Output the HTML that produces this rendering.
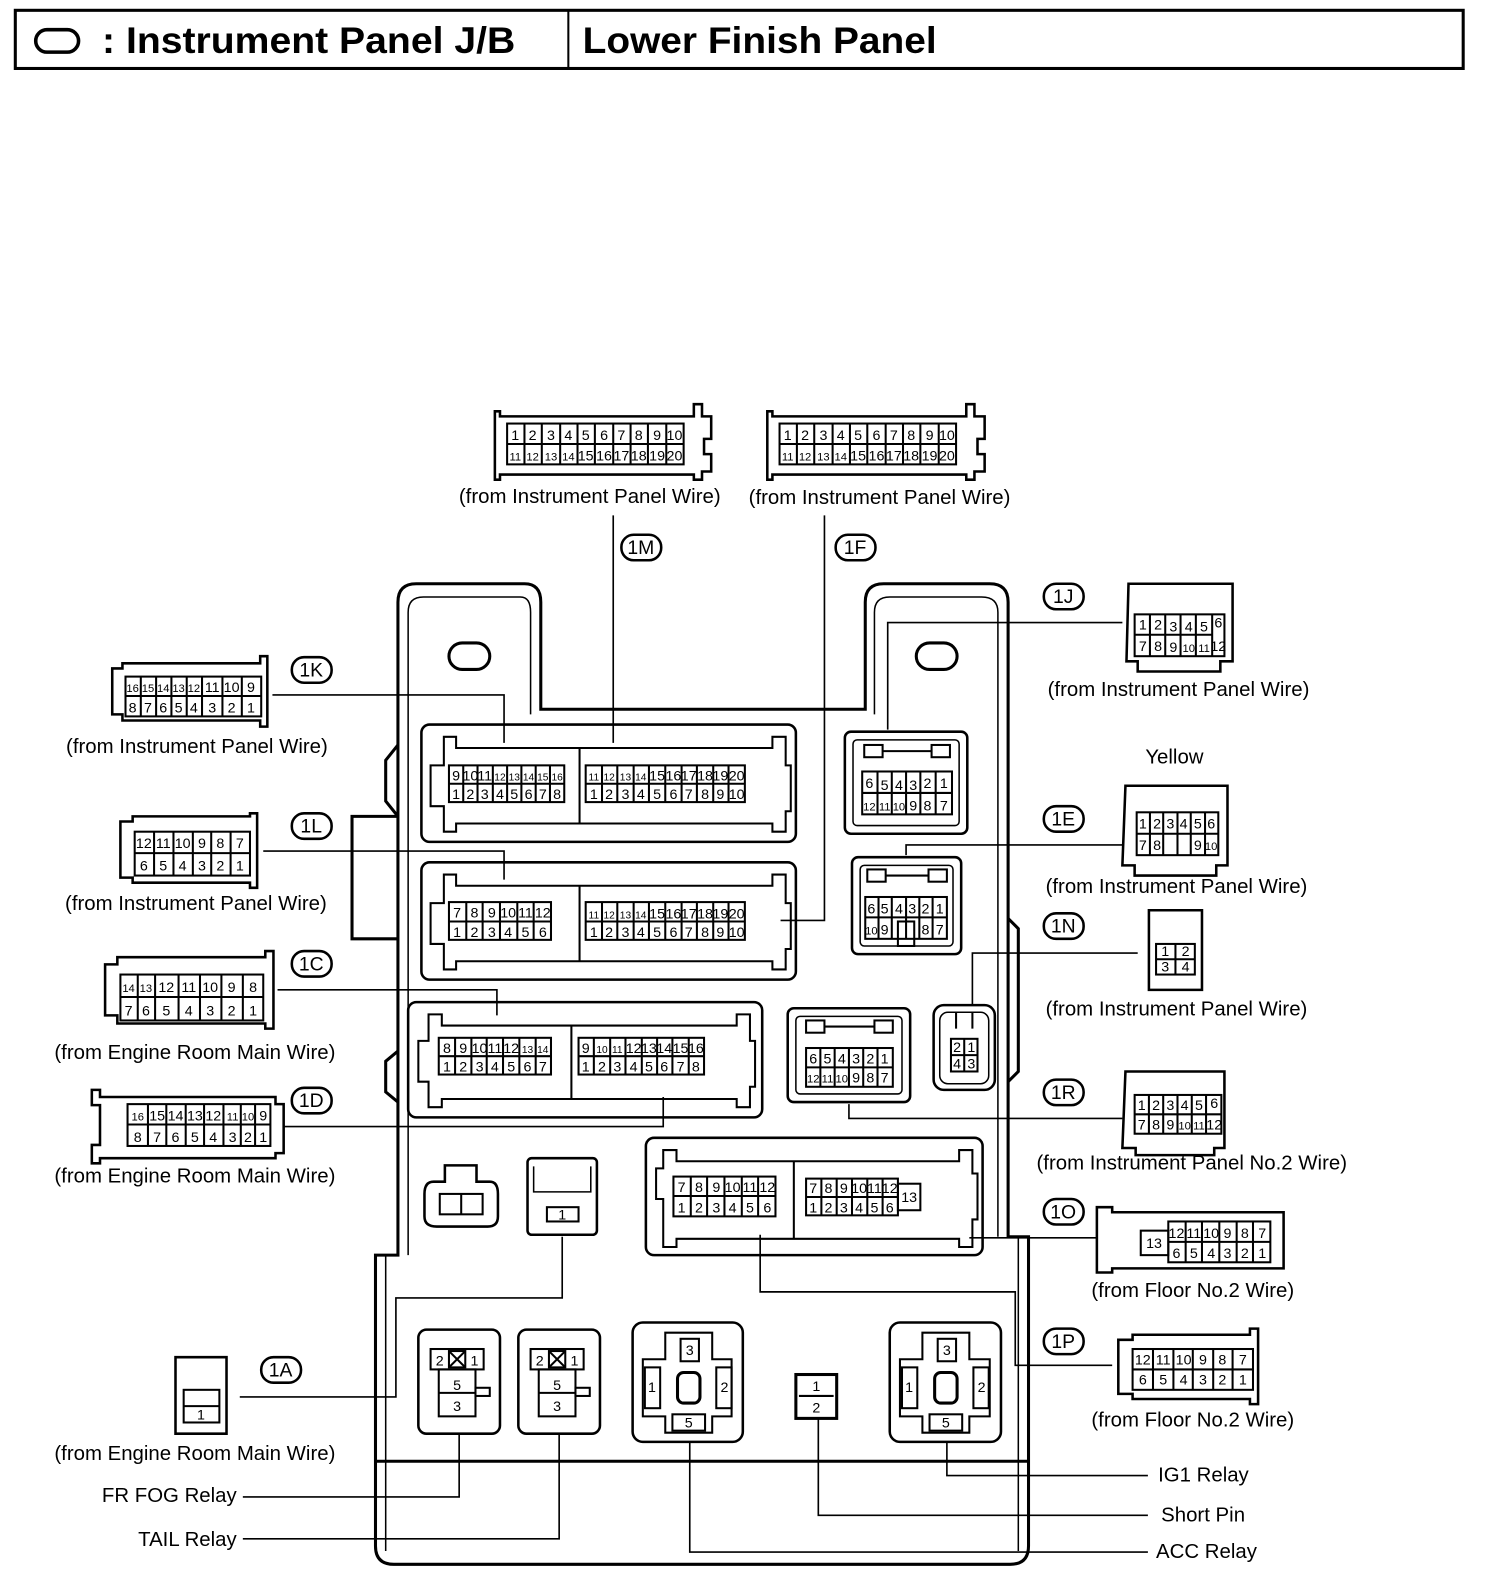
<!DOCTYPE html>
<html><head><meta charset="utf-8"><style>
html,body{margin:0;padding:0;background:#fff}
svg{display:block}
text{font-family:"Liberation Sans",Arial,sans-serif;fill:#000}
.l{font-size:20px}
.p{font-size:14px;text-anchor:middle}
.c{font-size:19px;text-anchor:middle}
</style></head><body>
<svg width="1504" height="1594" viewBox="0 0 1474 1562" xmlns="http://www.w3.org/2000/svg" fill="none" stroke="#000">
<!-- header -->
<rect x="15" y="10" width="1419" height="57" stroke-width="3"/>
<line x1="557" y1="10" x2="557" y2="67" stroke-width="2"/>
<rect x="35" y="29" width="42" height="22" rx="11" stroke-width="3.5"/>
<text x="100" y="52" style="font-size:36px;font-weight:bold" stroke="none" textLength="405" lengthAdjust="spacingAndGlyphs">: Instrument Panel J/B</text>
<text x="571" y="52" style="font-size:36px;font-weight:bold" stroke="none" textLength="347" lengthAdjust="spacingAndGlyphs">Lower Finish Panel</text>

<!-- main J/B body -->
<g stroke-width="3">
<path d="M390,1230 V590 Q390,572 408,572 H514 Q530,572 530,590 V695 H848 V590 Q848,572 866,572 H970 Q988,572 988,590 V1212 H1008 V1515 Q1008,1533 990,1533 H386 Q368,1533 368,1515 V1230 Z"/>
<path d="M400,1230 V600 Q400,585 415,585 H510 Q520,585 520,600 V700" stroke-width="1.5"/>
<path d="M857,700 V600 Q857,585 872,585 H962 Q978,585 978,600 V1212" stroke-width="1.5"/>
<line x1="368" y1="1432" x2="1008" y2="1432"/>
<line x1="378" y1="1230" x2="378" y2="1520" stroke-width="1.5"/>
<line x1="998" y1="1212" x2="998" y2="1520" stroke-width="1.5"/>
<path d="M390,800 H345 V920 H390"/>
<path d="M390,730 L378,745 V785 L390,800"/>
<path d="M390,1030 L378,1040 V1070 L390,1080"/>
<path d="M988,900 L998,910 V1050 L988,1060"/>
<rect x="440" y="630" width="40" height="26" rx="13"/>
<rect x="898" y="630" width="40" height="26" rx="13"/>
</g>

<!-- 1K/1M big connector -->
<g stroke-width="2.5">
<rect x="413" y="710" width="367" height="115" rx="8"/>
<path d="M435,722 H447 V733 H757 V722 H770 V750 H775 V795 H770 V815 H757 V807 H447 V815 H435 V790 H422 V750 H435 Z" stroke-width="2"/>
<line x1="568" y1="733" x2="568" y2="807" stroke-width="2"/>
<rect x="413" y="845" width="367" height="115" rx="8"/>
<path d="M435,857 H447 V868 H757 V857 H770 V885 H775 V930 H770 V950 H757 V942 H447 V950 H435 V925 H422 V885 H435 Z" stroke-width="2"/>
<line x1="568" y1="868" x2="568" y2="942" stroke-width="2"/>
<rect x="400" y="982" width="347" height="113" rx="8"/>
<path d="M420,994 H433 V1005 H722 V994 H735 V1020 H740 V1065 H735 V1085 H722 V1077 H433 V1085 H420 V1060 H410 V1020 H420 Z" stroke-width="2"/>
<line x1="560" y1="1005" x2="560" y2="1077" stroke-width="2"/>
<rect x="633" y="1115" width="330" height="115" rx="8"/>
<path d="M650,1127 H663 V1138 H940 V1127 H953 V1150 H958 V1195 H953 V1222 H940 V1214 H663 V1222 H650 V1175 H643 V1145 H650 Z" stroke-width="2"/>
<line x1="778" y1="1138" x2="778" y2="1214" stroke-width="2"/>
<!-- small right connectors -->
<rect x="828" y="717" width="120" height="100" rx="6"/>
<rect x="836" y="725" width="104" height="84" rx="4" stroke-width="1.5"/>
<rect x="835" y="840" width="107" height="95" rx="6"/>
<rect x="843" y="848" width="91" height="79" rx="4" stroke-width="1.5"/>
<rect x="772" y="988" width="120" height="92" rx="6"/>
<rect x="780" y="996" width="104" height="76" rx="4" stroke-width="1.5"/>
<rect x="915" y="985" width="60" height="83" rx="10"/>
<rect x="921" y="992" width="48" height="70" rx="8" stroke-width="1.5"/>
<!-- small left connectors -->
<path d="M425,1158 H436 V1142 H467 V1158 H480 Q488,1158 488,1170 V1192 Q488,1202 478,1202 H428 Q416,1202 416,1192 V1170 Q416,1158 425,1158 Z"/>
<rect x="431" y="1170" width="42" height="20" stroke-width="2"/>
<line x1="452" y1="1170" x2="452" y2="1190" stroke-width="2"/>
<rect x="517" y="1135" width="68" height="75" rx="4"/>
<path d="M523,1143 V1168 H579 V1143" stroke-width="1.5"/>
<rect x="536" y="1183" width="31" height="14" stroke-width="2"/>
<!-- relays -->
<rect x="410" y="1303" width="80" height="102" rx="8"/>
<rect x="508" y="1303" width="80" height="102" rx="8"/>
<rect x="620" y="1296" width="108" height="117" rx="10"/>
<rect x="872" y="1296" width="109" height="117" rx="10"/>
<rect x="780" y="1347" width="40" height="43" stroke-width="3"/>
</g>
<!-- relay internals -->
<g stroke-width="2">
<rect x="422" y="1322" width="52" height="20"/><rect x="440" y="1324" width="16" height="16"/><path d="M440,1324 L456,1340 M456,1324 L440,1340"/>
<rect x="430" y="1342" width="36" height="46"/><line x1="430" y1="1365" x2="466" y2="1365"/><rect x="466" y="1360" width="14" height="8"/>
<rect x="520" y="1322" width="52" height="20"/><rect x="538" y="1324" width="16" height="16"/><path d="M538,1324 L554,1340 M554,1324 L538,1340"/>
<rect x="528" y="1342" width="36" height="46"/><line x1="528" y1="1365" x2="564" y2="1365"/><rect x="564" y="1360" width="14" height="8"/>
<path d="M652,1306 H698 V1332 H717 V1388 H698 V1404 H652 V1388 H630 V1332 H652 Z"/>
<rect x="667" y="1312" width="18" height="22"/><rect x="632" y="1340" width="15" height="40"/><rect x="702" y="1340" width="15" height="40"/><rect x="659" y="1386" width="32" height="16"/>
<rect x="664" y="1345" width="22" height="30" rx="6" stroke-width="3"/>
<path d="M904,1306 H950 V1332 H970 V1388 H950 V1404 H904 V1388 H882 V1332 H904 Z"/>
<rect x="919" y="1312" width="18" height="22"/><rect x="884" y="1340" width="15" height="40"/><rect x="954" y="1340" width="15" height="40"/><rect x="911" y="1386" width="32" height="16"/>
<rect x="916" y="1345" width="22" height="30" rx="6" stroke-width="3"/>
<line x1="783" y1="1368" x2="817" y2="1368"/>
</g>
<g stroke="none">
<text class="p" x="431" y="1338">2</text><text class="p" x="465" y="1338">1</text><text class="p" x="448" y="1362">5</text><text class="p" x="448" y="1383">3</text>
<text class="p" x="529" y="1338">2</text><text class="p" x="563" y="1338">1</text><text class="p" x="546" y="1362">5</text><text class="p" x="546" y="1383">3</text>
<text class="p" x="676" y="1328">3</text><text class="p" x="639" y="1364">1</text><text class="p" x="710" y="1364">2</text><text class="p" x="675" y="1399">5</text>
<text class="p" x="928" y="1328">3</text><text class="p" x="891" y="1364">1</text><text class="p" x="962" y="1364">2</text><text class="p" x="927" y="1399">5</text>
<text class="p" x="800" y="1363">1</text><text class="p" x="800" y="1384">2</text>
<text class="p" x="551" y="1195">1</text>
</g>

<!-- pin grids -->
<g stroke-width="2">
<rect x="440" y="750" width="113" height="36"/><line x1="440" y1="768" x2="553" y2="768"/>
<path d="M454,750V786M468,750V786M483,750V786M497,750V786M511,750V786M525,750V786M539,750V786"/>
<rect x="574" y="750" width="156" height="36"/><line x1="574" y1="768" x2="730" y2="768"/>
<path d="M590,750V786M605,750V786M621,750V786M636,750V786M652,750V786M668,750V786M683,750V786M699,750V786M714,750V786"/>
<rect x="440" y="884" width="100" height="37"/><line x1="440" y1="903" x2="540" y2="903"/>
<path d="M457,884V921M473,884V921M490,884V921M507,884V921M523,884V921"/>
<rect x="574" y="884" width="156" height="37"/><line x1="574" y1="903" x2="730" y2="903"/>
<path d="M590,884V921M605,884V921M621,884V921M636,884V921M652,884V921M668,884V921M683,884V921M699,884V921M714,884V921"/>
<rect x="430" y="1017" width="110" height="36"/><line x1="430" y1="1035" x2="540" y2="1035"/>
<path d="M446,1017V1053M462,1017V1053M477,1017V1053M493,1017V1053M509,1017V1053M525,1017V1053"/>
<rect x="567" y="1017" width="123" height="36"/><line x1="567" y1="1035" x2="690" y2="1035"/>
<path d="M582,1017V1053M598,1017V1053M613,1017V1053M629,1017V1053M644,1017V1053M659,1017V1053M675,1017V1053"/>
<rect x="660" y="1153" width="100" height="39"/><line x1="660" y1="1172" x2="760" y2="1172"/>
<path d="M677,1153V1192M693,1153V1192M710,1153V1192M727,1153V1192M743,1153V1192"/>
<rect x="790" y="1155" width="90" height="36"/><line x1="790" y1="1173" x2="880" y2="1173"/>
<path d="M805,1155V1191M820,1155V1191M835,1155V1191M850,1155V1191M865,1155V1191"/>
<rect x="880" y="1160" width="22" height="26"/>
<rect x="845" y="756" width="88" height="42"/><line x1="845" y1="777" x2="933" y2="777"/>
<path d="M860,756V798M874,756V798M888,756V798M902,756V798M917,756V798"/>
<rect x="847" y="730" width="18" height="12"/><rect x="913" y="730" width="18" height="12"/><line x1="865" y1="736" x2="913" y2="736"/>
<rect x="848" y="879" width="80" height="41"/><line x1="848" y1="899" x2="928" y2="899"/>
<path d="M861,879V920M874,879V920M888,879V920M901,879V920M914,879V920"/>
<rect x="880" y="903" width="16" height="24"/>
<rect x="850" y="852" width="18" height="12"/><rect x="910" y="852" width="18" height="12"/><line x1="868" y1="858" x2="910" y2="858"/>
<rect x="790" y="1027" width="85" height="38"/><line x1="790" y1="1046" x2="875" y2="1046"/>
<path d="M804,1027V1065M818,1027V1065M832,1027V1065M846,1027V1065M860,1027V1065"/>
<rect x="790" y="1000" width="18" height="12"/><rect x="857" y="1000" width="18" height="12"/><line x1="808" y1="1006" x2="857" y2="1006"/>
<rect x="932" y="1018" width="26" height="32"/><line x1="932" y1="1034" x2="958" y2="1034"/><line x1="945" y1="1018" x2="945" y2="1050"/>
<path d="M937,992V1008M953,992V1008"/>
</g>
<g stroke="none">
<text class="p" x="447" y="765">9</text><text class="p" x="461" y="765">10</text><text class="p" x="475" y="765">11</text><text class="p" x="490" y="765" style="font-size:10px">12</text><text class="p" x="504" y="765" style="font-size:10px">13</text><text class="p" x="518" y="765" style="font-size:10px">14</text><text class="p" x="532" y="765" style="font-size:10px">15</text><text class="p" x="546" y="765" style="font-size:10px">16</text>
<text class="p" x="447" y="783">1</text><text class="p" x="461" y="783">2</text><text class="p" x="475" y="783">3</text><text class="p" x="490" y="783">4</text><text class="p" x="504" y="783">5</text><text class="p" x="518" y="783">6</text><text class="p" x="532" y="783">7</text><text class="p" x="546" y="783">8</text>
<text class="p" x="582" y="765" style="font-size:10px">11</text><text class="p" x="597" y="765" style="font-size:10px">12</text><text class="p" x="613" y="765" style="font-size:10px">13</text><text class="p" x="628" y="765" style="font-size:10px">14</text><text class="p" x="644" y="765">15</text><text class="p" x="660" y="765">16</text><text class="p" x="675" y="765">17</text><text class="p" x="691" y="765">18</text><text class="p" x="706" y="765">19</text><text class="p" x="722" y="765">20</text>
<text class="p" x="582" y="783">1</text><text class="p" x="597" y="783">2</text><text class="p" x="613" y="783">3</text><text class="p" x="628" y="783">4</text><text class="p" x="644" y="783">5</text><text class="p" x="660" y="783">6</text><text class="p" x="675" y="783">7</text><text class="p" x="691" y="783">8</text><text class="p" x="706" y="783">9</text><text class="p" x="722" y="783">10</text>
<text class="p" x="448" y="899">7</text><text class="p" x="465" y="899">8</text><text class="p" x="482" y="899">9</text><text class="p" x="498" y="899">10</text><text class="p" x="515" y="899">11</text><text class="p" x="532" y="899">12</text>
<text class="p" x="448" y="918">1</text><text class="p" x="465" y="918">2</text><text class="p" x="482" y="918">3</text><text class="p" x="498" y="918">4</text><text class="p" x="515" y="918">5</text><text class="p" x="532" y="918">6</text>
<text class="p" x="582" y="900" style="font-size:10px">11</text><text class="p" x="597" y="900" style="font-size:10px">12</text><text class="p" x="613" y="900" style="font-size:10px">13</text><text class="p" x="628" y="900" style="font-size:10px">14</text><text class="p" x="644" y="900">15</text><text class="p" x="660" y="900">16</text><text class="p" x="675" y="900">17</text><text class="p" x="691" y="900">18</text><text class="p" x="706" y="900">19</text><text class="p" x="722" y="900">20</text>
<text class="p" x="582" y="918">1</text><text class="p" x="597" y="918">2</text><text class="p" x="613" y="918">3</text><text class="p" x="628" y="918">4</text><text class="p" x="644" y="918">5</text><text class="p" x="660" y="918">6</text><text class="p" x="675" y="918">7</text><text class="p" x="691" y="918">8</text><text class="p" x="706" y="918">9</text><text class="p" x="722" y="918">10</text>
<text class="p" x="438" y="1032">8</text><text class="p" x="454" y="1032">9</text><text class="p" x="470" y="1032">10</text><text class="p" x="485" y="1032">11</text><text class="p" x="501" y="1032">12</text><text class="p" x="517" y="1032" style="font-size:10px">13</text><text class="p" x="532" y="1032" style="font-size:10px">14</text>
<text class="p" x="438" y="1050">1</text><text class="p" x="454" y="1050">2</text><text class="p" x="470" y="1050">3</text><text class="p" x="485" y="1050">4</text><text class="p" x="501" y="1050">5</text><text class="p" x="517" y="1050">6</text><text class="p" x="532" y="1050">7</text>
<text class="p" x="574" y="1032">9</text><text class="p" x="590" y="1032" style="font-size:10px">10</text><text class="p" x="605" y="1032" style="font-size:10px">11</text><text class="p" x="621" y="1032">12</text><text class="p" x="636" y="1032">13</text><text class="p" x="651" y="1032">14</text><text class="p" x="667" y="1032">15</text><text class="p" x="682" y="1032">16</text>
<text class="p" x="574" y="1050">1</text><text class="p" x="590" y="1050">2</text><text class="p" x="605" y="1050">3</text><text class="p" x="621" y="1050">4</text><text class="p" x="636" y="1050">5</text><text class="p" x="651" y="1050">6</text><text class="p" x="667" y="1050">7</text><text class="p" x="682" y="1050">8</text>
<text class="p" x="668" y="1168">7</text><text class="p" x="685" y="1168">8</text><text class="p" x="702" y="1168">9</text><text class="p" x="718" y="1168">10</text><text class="p" x="735" y="1168">11</text><text class="p" x="752" y="1168">12</text>
<text class="p" x="668" y="1188">1</text><text class="p" x="685" y="1188">2</text><text class="p" x="702" y="1188">3</text><text class="p" x="718" y="1188">4</text><text class="p" x="735" y="1188">5</text><text class="p" x="752" y="1188">6</text>
<text class="p" x="797" y="1169">7</text><text class="p" x="812" y="1169">8</text><text class="p" x="827" y="1169">9</text><text class="p" x="842" y="1169">10</text><text class="p" x="857" y="1169">11</text><text class="p" x="872" y="1169">12</text>
<text class="p" x="797" y="1188">1</text><text class="p" x="812" y="1188">2</text><text class="p" x="827" y="1188">3</text><text class="p" x="842" y="1188">4</text><text class="p" x="857" y="1188">5</text><text class="p" x="872" y="1188">6</text><text class="p" x="891" y="1178">13</text>
<text class="p" x="852" y="772">6</text><text class="p" x="867" y="774">5</text><text class="p" x="881" y="774">4</text><text class="p" x="895" y="774">3</text><text class="p" x="909" y="772">2</text><text class="p" x="925" y="772">1</text>
<text class="p" x="852" y="794" style="font-size:11px">12</text><text class="p" x="867" y="794" style="font-size:11px">11</text><text class="p" x="881" y="794" style="font-size:11px">10</text><text class="p" x="895" y="794">9</text><text class="p" x="909" y="794">8</text><text class="p" x="925" y="794">7</text>
<text class="p" x="854" y="895">6</text><text class="p" x="867" y="895">5</text><text class="p" x="881" y="895">4</text><text class="p" x="894" y="895">3</text><text class="p" x="907" y="895">2</text><text class="p" x="921" y="895">1</text>
<text class="p" x="854" y="916" style="font-size:11px">10</text><text class="p" x="867" y="916">9</text><text class="p" x="907" y="916">8</text><text class="p" x="921" y="916">7</text>
<text class="p" x="797" y="1042">6</text><text class="p" x="811" y="1042">5</text><text class="p" x="825" y="1042">4</text><text class="p" x="839" y="1042">3</text><text class="p" x="853" y="1042">2</text><text class="p" x="867" y="1042">1</text>
<text class="p" x="797" y="1061" style="font-size:11px">12</text><text class="p" x="811" y="1061" style="font-size:11px">11</text><text class="p" x="825" y="1061" style="font-size:11px">10</text><text class="p" x="839" y="1061">9</text><text class="p" x="853" y="1061">8</text><text class="p" x="867" y="1061">7</text>
<text class="p" x="938" y="1031">2</text><text class="p" x="952" y="1031">1</text><text class="p" x="938" y="1047">4</text><text class="p" x="952" y="1047">3</text>
</g>

<!-- leader lines -->
<g stroke-width="1.6">
<path d="M267,681 H494 V728"/>
<path d="M601,505 V728"/>
<path d="M808,505 V902 H765"/>
<path d="M1100,610 H870 V715"/>
<path d="M258,834 H494 V862"/>
<path d="M272,970 H487 V995"/>
<path d="M278,1104 H650 V1075"/>
<path d="M1100,828 H888 V838"/>
<path d="M1115,934 H953 V985"/>
<path d="M1100,1096 H832 V1082"/>
<path d="M1075,1213 H950"/>
<path d="M745,1210 V1266 H995 V1338 H1090"/>
<path d="M235,1369 H388 V1272 H551 V1212"/>
<path d="M238,1467 H450 V1405"/>
<path d="M238,1508 H548 V1405"/>
<path d="M1125,1446 H928 V1413"/>
<path d="M1125,1485 H802 V1390"/>
<path d="M1125,1521 H676 V1413"/>
</g>

<!-- callout ellipses -->
<g stroke-width="2.5">
<rect x="609" y="524" width="39" height="25" rx="12"/>
<rect x="819" y="524" width="39" height="25" rx="12"/>
<rect x="1023" y="572" width="39" height="25" rx="12"/>
<rect x="286" y="644" width="39" height="25" rx="12"/>
<rect x="286" y="797" width="39" height="25" rx="12"/>
<rect x="286" y="932" width="39" height="25" rx="12"/>
<rect x="286" y="1066" width="39" height="25" rx="12"/>
<rect x="1023" y="790" width="39" height="25" rx="12"/>
<rect x="1023" y="895" width="39" height="25" rx="12"/>
<rect x="1023" y="1058" width="39" height="25" rx="12"/>
<rect x="1023" y="1175" width="39" height="25" rx="12"/>
<rect x="1023" y="1302" width="39" height="25" rx="12"/>
<rect x="256" y="1330" width="39" height="25" rx="12"/>
</g>
<g stroke="none">
<text class="c" x="628" y="543">1M</text><text class="c" x="838" y="543">1F</text><text class="c" x="1042" y="591">1J</text>
<text class="c" x="305" y="663">1K</text><text class="c" x="305" y="816">1L</text><text class="c" x="305" y="951">1C</text><text class="c" x="305" y="1085">1D</text>
<text class="c" x="1042" y="809">1E</text><text class="c" x="1042" y="914">1N</text><text class="c" x="1042" y="1077">1R</text><text class="c" x="1042" y="1194">1O</text><text class="c" x="1042" y="1321">1P</text><text class="c" x="275" y="1349">1A</text>
</g>

<!-- external connectors -->
<g stroke-width="2.5">
<path d="M485,403 H490 V408 H680 V396 H688 V408 H697 V430 H690 V445 H697 V462 H688 V470 H680 V465 H490 V470 H485 Z"/>
<path d="M752,403 H757 V408 H947 V396 H955 V408 H965 V430 H958 V445 H965 V462 H955 V470 H947 V465 H757 V470 H752 Z"/>
<path d="M110,655 H120 V650 H255 V643 H262 V712 H255 V706 H120 V700 H110 Z"/>
<path d="M118,805 H130 V800 H245 V797 H252 V870 H245 V865 H130 V860 H118 Z"/>
<path d="M103,945 H115 V938 H260 V932 H268 V1008 H260 V1003 H115 V995 H103 Z"/>
<path d="M90,1068 H98 V1075 H270 V1082 H278 V1130 H270 V1135 H98 V1140 H90 V1122 H98 V1083 H90 Z"/>
<path d="M1106,572 H1208 V648 H1196 V658 H1115 V648 H1104 Z"/>
<path d="M1103,770 H1203 V848 H1192 V858 H1112 V848 H1100 Z"/>
<path d="M1126,892 H1178 V970 H1126 Z"/>
<path d="M1103,1050 H1200 V1125 H1190 V1132 H1113 V1125 H1100 Z"/>
<path d="M1075,1183 H1090 V1188 H1258 V1243 H1090 V1247 H1075 Z"/>
<path d="M1096,1313 H1110 V1308 H1225 V1302 H1233 V1376 H1225 V1371 H1110 V1366 H1096 Z"/>
<path d="M172,1330 H222 V1405 H172 Z"/>
</g>
<g stroke-width="2">
<rect x="497" y="415" width="173" height="40"/><line x1="497" y1="435" x2="670" y2="435"/>
<path d="M514,415V455M531,415V455M549,415V455M566,415V455M583,415V455M601,415V455M618,415V455M635,415V455M653,415V455"/>
<rect x="764" y="415" width="173" height="40"/><line x1="764" y1="435" x2="937" y2="435"/>
<path d="M781,415V455M798,415V455M816,415V455M833,415V455M850,415V455M868,415V455M885,415V455M902,415V455M920,415V455"/>
<rect x="123" y="663" width="133" height="39"/><line x1="123" y1="682" x2="256" y2="682"/>
<path d="M138,663V702M153,663V702M168,663V702M183,663V702M198,663V702M218,663V702M237,663V702"/>
<rect x="132" y="815" width="113" height="43"/><line x1="132" y1="836" x2="245" y2="836"/>
<path d="M151,815V858M170,815V858M189,815V858M207,815V858M226,815V858"/>
<rect x="118" y="955" width="140" height="45"/><line x1="118" y1="977" x2="258" y2="977"/>
<path d="M135,955V1000M152,955V1000M175,955V1000M196,955V1000M217,955V1000M238,955V1000"/>
<rect x="125" y="1082" width="140" height="41"/><line x1="125" y1="1102" x2="265" y2="1102"/>
<path d="M145,1082V1123M163,1082V1123M182,1082V1123M200,1082V1123M219,1082V1123M236,1082V1123M250,1082V1123"/>
<rect x="1112" y="602" width="88" height="41"/><line x1="1112" y1="622" x2="1188" y2="622"/>
<path d="M1127,602V643M1142,602V643M1157,602V643M1172,602V643M1188,602V643"/>
<rect x="1114" y="796" width="80" height="42"/><line x1="1114" y1="817" x2="1194" y2="817"/>
<path d="M1127,796V838M1140,796V838M1154,796V838M1167,796V838M1181,796V838"/>
<rect x="1133" y="925" width="38" height="30"/><line x1="1133" y1="940" x2="1171" y2="940"/><line x1="1152" y1="925" x2="1152" y2="955"/>
<rect x="1112" y="1073" width="85" height="38"/><line x1="1112" y1="1092" x2="1197" y2="1092"/>
<path d="M1126,1073V1111M1140,1073V1111M1154,1073V1111M1168,1073V1111M1182,1073V1111"/>
<rect x="1145" y="1197" width="100" height="40"/><line x1="1145" y1="1217" x2="1245" y2="1217"/>
<path d="M1162,1197V1237M1178,1197V1237M1195,1197V1237M1212,1197V1237M1228,1197V1237"/>
<rect x="1118" y="1206" width="27" height="24"/>
<rect x="1110" y="1322" width="118" height="40"/><line x1="1110" y1="1342" x2="1228" y2="1342"/>
<path d="M1130,1322V1362M1150,1322V1362M1169,1322V1362M1189,1322V1362M1208,1322V1362"/>
<rect x="180" y="1362" width="35" height="32"/><line x1="180" y1="1378" x2="215" y2="1378"/>
</g>
<g stroke="none">
<text class="p" x="505" y="431">1</text><text class="p" x="522" y="431">2</text><text class="p" x="540" y="431">3</text><text class="p" x="557" y="431">4</text><text class="p" x="574" y="431">5</text><text class="p" x="592" y="431">6</text><text class="p" x="609" y="431">7</text><text class="p" x="626" y="431">8</text><text class="p" x="644" y="431">9</text><text class="p" x="661" y="431">10</text>
<text class="p" x="505" y="451" style="font-size:11px">11</text><text class="p" x="522" y="451" style="font-size:11px">12</text><text class="p" x="540" y="451" style="font-size:11px">13</text><text class="p" x="557" y="451" style="font-size:11px">14</text><text class="p" x="574" y="451">15</text><text class="p" x="592" y="451">16</text><text class="p" x="609" y="451">17</text><text class="p" x="626" y="451">18</text><text class="p" x="644" y="451">19</text><text class="p" x="661" y="451">20</text>
<text class="p" x="772" y="431">1</text><text class="p" x="789" y="431">2</text><text class="p" x="807" y="431">3</text><text class="p" x="824" y="431">4</text><text class="p" x="841" y="431">5</text><text class="p" x="859" y="431">6</text><text class="p" x="876" y="431">7</text><text class="p" x="893" y="431">8</text><text class="p" x="911" y="431">9</text><text class="p" x="928" y="431">10</text>
<text class="p" x="772" y="451" style="font-size:11px">11</text><text class="p" x="789" y="451" style="font-size:11px">12</text><text class="p" x="807" y="451" style="font-size:11px">13</text><text class="p" x="824" y="451" style="font-size:11px">14</text><text class="p" x="841" y="451">15</text><text class="p" x="859" y="451">16</text><text class="p" x="876" y="451">17</text><text class="p" x="893" y="451">18</text><text class="p" x="911" y="451">19</text><text class="p" x="928" y="451">20</text>
<text class="p" x="130" y="678" style="font-size:11px">16</text><text class="p" x="145" y="678" style="font-size:11px">15</text><text class="p" x="160" y="678" style="font-size:11px">14</text><text class="p" x="175" y="678" style="font-size:11px">13</text><text class="p" x="190" y="678" style="font-size:11px">12</text><text class="p" x="208" y="678">11</text><text class="p" x="227" y="678">10</text><text class="p" x="246" y="678">9</text>
<text class="p" x="130" y="698">8</text><text class="p" x="145" y="698">7</text><text class="p" x="160" y="698">6</text><text class="p" x="175" y="698">5</text><text class="p" x="190" y="698">4</text><text class="p" x="208" y="698">3</text><text class="p" x="227" y="698">2</text><text class="p" x="246" y="698">1</text>
<text class="p" x="141" y="831">12</text><text class="p" x="160" y="831">11</text><text class="p" x="179" y="831">10</text><text class="p" x="198" y="831">9</text><text class="p" x="216" y="831">8</text><text class="p" x="235" y="831">7</text>
<text class="p" x="141" y="853">6</text><text class="p" x="160" y="853">5</text><text class="p" x="179" y="853">4</text><text class="p" x="198" y="853">3</text><text class="p" x="216" y="853">2</text><text class="p" x="235" y="853">1</text>
<text class="p" x="126" y="972" style="font-size:11px">14</text><text class="p" x="143" y="972" style="font-size:11px">13</text><text class="p" x="163" y="972">12</text><text class="p" x="185" y="972">11</text><text class="p" x="206" y="972">10</text><text class="p" x="227" y="972">9</text><text class="p" x="248" y="972">8</text>
<text class="p" x="126" y="995">7</text><text class="p" x="143" y="995">6</text><text class="p" x="163" y="995">5</text><text class="p" x="185" y="995">4</text><text class="p" x="206" y="995">3</text><text class="p" x="227" y="995">2</text><text class="p" x="248" y="995">1</text>
<text class="p" x="135" y="1098" style="font-size:11px">16</text><text class="p" x="154" y="1098">15</text><text class="p" x="172" y="1098">14</text><text class="p" x="191" y="1098">13</text><text class="p" x="209" y="1098">12</text><text class="p" x="228" y="1098" style="font-size:11px">11</text><text class="p" x="243" y="1098" style="font-size:11px">10</text><text class="p" x="258" y="1098">9</text>
<text class="p" x="135" y="1119">8</text><text class="p" x="154" y="1119">7</text><text class="p" x="172" y="1119">6</text><text class="p" x="191" y="1119">5</text><text class="p" x="209" y="1119">4</text><text class="p" x="228" y="1119">3</text><text class="p" x="243" y="1119">2</text><text class="p" x="258" y="1119">1</text>
<text class="p" x="1120" y="617">1</text><text class="p" x="1135" y="617">2</text><text class="p" x="1150" y="619">3</text><text class="p" x="1165" y="619">4</text><text class="p" x="1180" y="619">5</text><text class="p" x="1194" y="615">6</text>
<text class="p" x="1120" y="638">7</text><text class="p" x="1135" y="638">8</text><text class="p" x="1150" y="639">9</text><text class="p" x="1165" y="639" style="font-size:11px">10</text><text class="p" x="1180" y="639" style="font-size:11px">11</text><text class="p" x="1194" y="638">12</text>
<text class="p" x="1120" y="812">1</text><text class="p" x="1134" y="812">2</text><text class="p" x="1147" y="812">3</text><text class="p" x="1160" y="812">4</text><text class="p" x="1174" y="812">5</text><text class="p" x="1187" y="812">6</text>
<text class="p" x="1120" y="833">7</text><text class="p" x="1134" y="833">8</text><text class="p" x="1174" y="833">9</text><text class="p" x="1187" y="833" style="font-size:11px">10</text>
<text class="p" x="1142" y="937">1</text><text class="p" x="1162" y="937">2</text><text class="p" x="1142" y="952">3</text><text class="p" x="1162" y="952">4</text>
<text class="p" x="1119" y="1088">1</text><text class="p" x="1133" y="1088">2</text><text class="p" x="1147" y="1088">3</text><text class="p" x="1161" y="1088">4</text><text class="p" x="1175" y="1088">5</text><text class="p" x="1190" y="1086">6</text>
<text class="p" x="1119" y="1107">7</text><text class="p" x="1133" y="1107">8</text><text class="p" x="1147" y="1107">9</text><text class="p" x="1161" y="1107" style="font-size:11px">10</text><text class="p" x="1175" y="1107" style="font-size:11px">11</text><text class="p" x="1190" y="1107">12</text>
<text class="p" x="1153" y="1213">12</text><text class="p" x="1170" y="1213">11</text><text class="p" x="1187" y="1213">10</text><text class="p" x="1203" y="1213">9</text><text class="p" x="1220" y="1213">8</text><text class="p" x="1237" y="1213">7</text>
<text class="p" x="1153" y="1233">6</text><text class="p" x="1170" y="1233">5</text><text class="p" x="1187" y="1233">4</text><text class="p" x="1203" y="1233">3</text><text class="p" x="1220" y="1233">2</text><text class="p" x="1237" y="1233">1</text><text class="p" x="1131" y="1223">13</text>
<text class="p" x="1120" y="1337">12</text><text class="p" x="1140" y="1337">11</text><text class="p" x="1160" y="1337">10</text><text class="p" x="1179" y="1337">9</text><text class="p" x="1198" y="1337">8</text><text class="p" x="1218" y="1337">7</text>
<text class="p" x="1120" y="1357">6</text><text class="p" x="1140" y="1357">5</text><text class="p" x="1160" y="1357">4</text><text class="p" x="1179" y="1357">3</text><text class="p" x="1198" y="1357">2</text><text class="p" x="1218" y="1357">1</text>
<text class="p" x="197" y="1391">1</text>

<text class="l" x="578" y="493" text-anchor="middle">(from Instrument Panel Wire)</text>
<text class="l" x="862" y="494" text-anchor="middle">(from Instrument Panel Wire)</text>
<text class="l" x="193" y="738" text-anchor="middle">(from Instrument Panel Wire)</text>
<text class="l" x="192" y="892" text-anchor="middle">(from Instrument Panel Wire)</text>
<text class="l" x="191" y="1038" text-anchor="middle">(from Engine Room Main Wire)</text>
<text class="l" x="191" y="1159" text-anchor="middle">(from Engine Room Main Wire)</text>
<text class="l" x="191" y="1431" text-anchor="middle">(from Engine Room Main Wire)</text>
<text class="l" x="1155" y="682" text-anchor="middle">(from Instrument Panel Wire)</text>
<text class="l" x="1151" y="748" text-anchor="middle">Yellow</text>
<text class="l" x="1153" y="875" text-anchor="middle">(from Instrument Panel Wire)</text>
<text class="l" x="1153" y="995" text-anchor="middle">(from Instrument Panel Wire)</text>
<text class="l" x="1168" y="1146" text-anchor="middle">(from Instrument Panel No.2 Wire)</text>
<text class="l" x="1169" y="1271" text-anchor="middle">(from Floor No.2 Wire)</text>
<text class="l" x="1169" y="1398" text-anchor="middle">(from Floor No.2 Wire)</text>
<text class="l" x="232" y="1472" text-anchor="end">FR FOG Relay</text>
<text class="l" x="232" y="1515" text-anchor="end">TAIL Relay</text>
<text class="l" x="1135" y="1452">IG1 Relay</text>
<text class="l" x="1138" y="1491">Short Pin</text>
<text class="l" x="1133" y="1527">ACC Relay</text>
</g>
</svg>
</body></html>
